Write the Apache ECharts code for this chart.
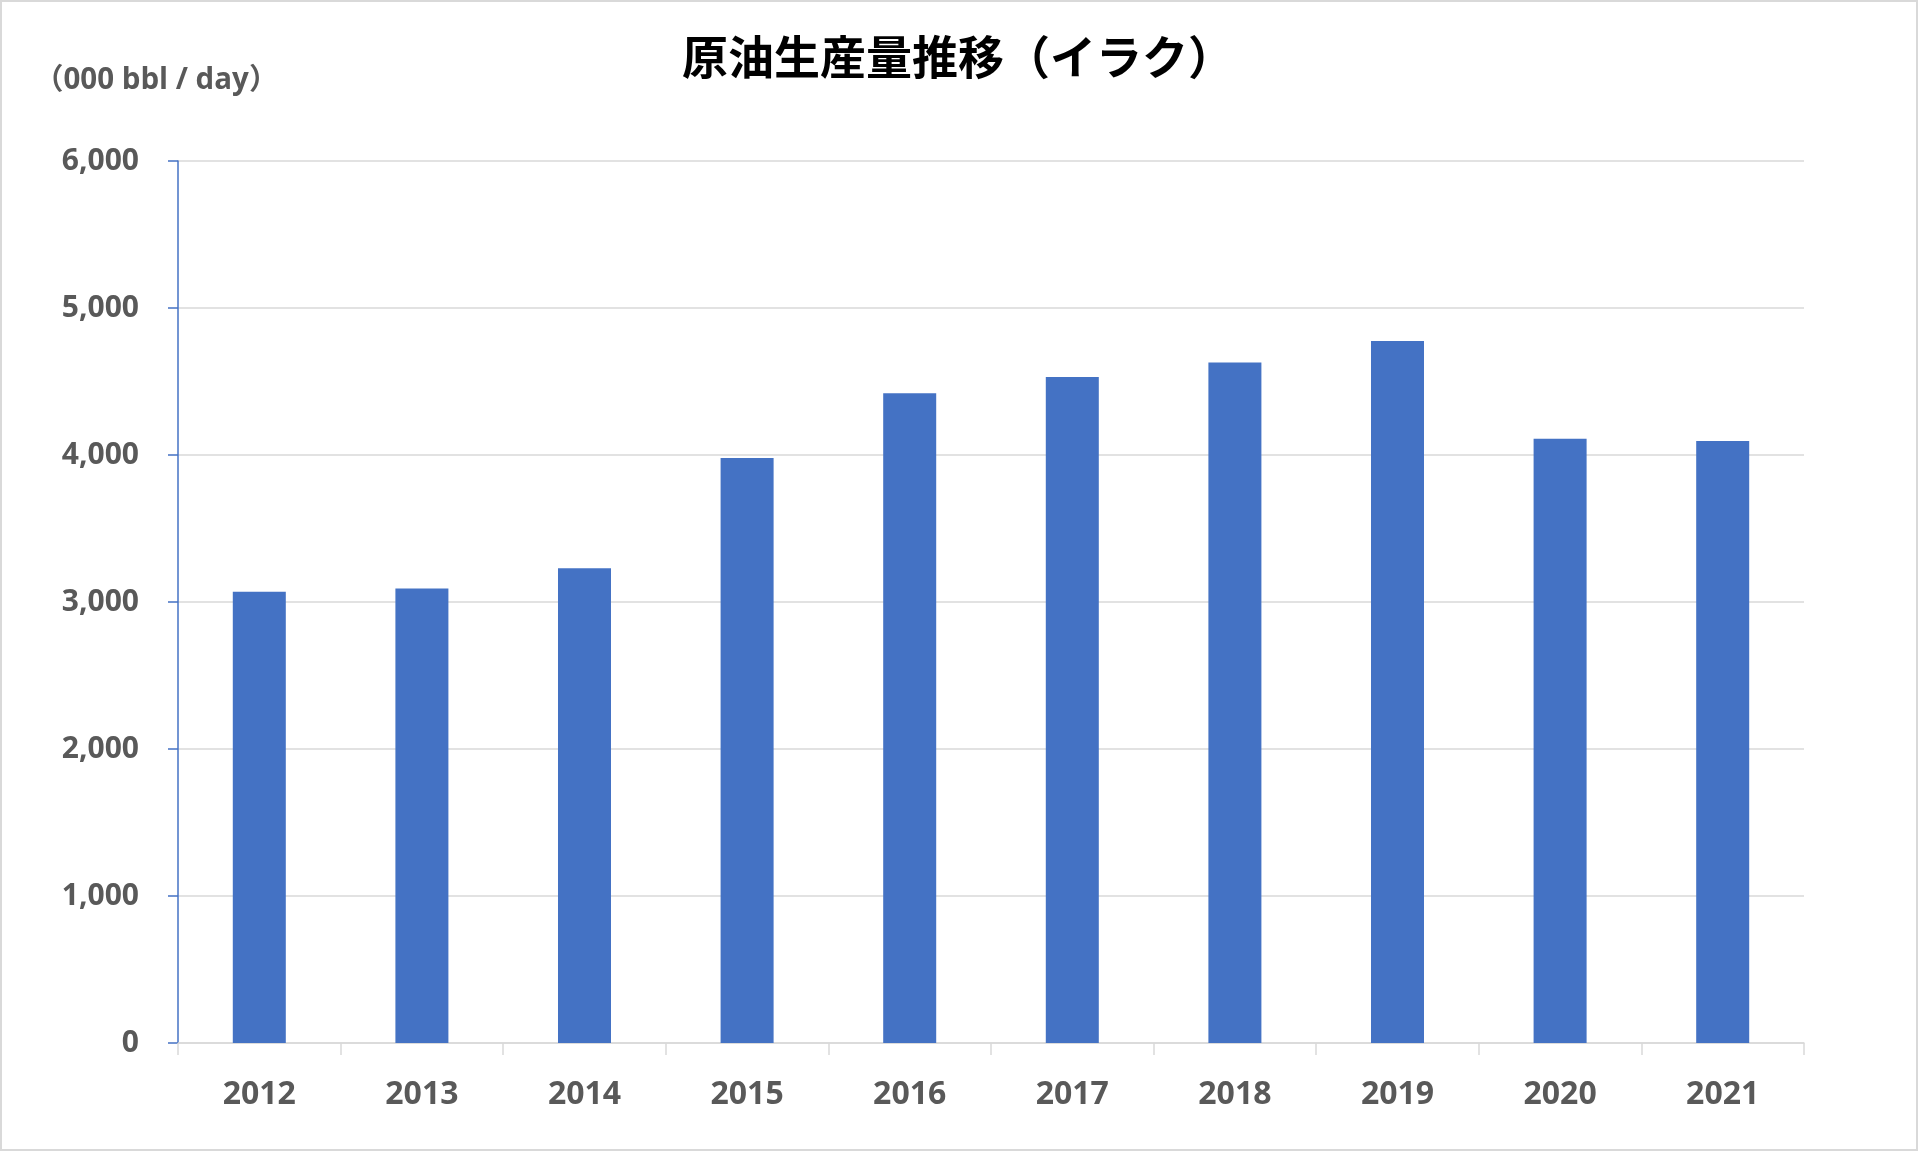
<!DOCTYPE html>
<html>
<head>
<meta charset="utf-8">
<script src="https://cdn.jsdelivr.net/npm/echarts@6/dist/echarts.min.js"></script>
<style>
html,body{margin:0;padding:0;background:#fff;}
#chart{width:1920px;height:1152px;}
</style>
</head>
<body>
<div id="chart"></div>
<script>
const titleText = '原油生産量推移（イラク）';
const unitText = '（000 bbl / day）';
const years = ['2012','2013','2014','2015','2016','2017','2018','2019','2020','2021'];
const production = [3070, 3092, 3230, 3980, 4420, 4530, 4630, 4775, 4110, 4095];
const yMin = 0, yMax = 6000, yStep = 1000;

const chart = echarts.init(document.getElementById('chart'), null, {renderer:'canvas'});
const latin = "'Open Sans', 'Noto Sans CJK JP', sans-serif";
chart.setOption({
  backgroundColor: '#ffffff',
  animation: false,
  title: {
    text: titleText,
    left: 677,
    top: 29,
    textStyle: {fontSize: 46, fontWeight: 'bold', color: '#000000', fontFamily: "'Noto Sans CJK JP', sans-serif"}
  },
  graphic: [
    {type:'rect', shape:{x:1, y:1, width:1916, height:1149}, style:{fill:'none', stroke:'#d9d9d9', lineWidth:2}, silent:true},
    {type:'text', left: 34, top: 66, style:{text: unitText, fontSize: 29.5, fontWeight:'bold', fill:'#595959', fontFamily: latin}}
  ],
  grid: {left: 178, right: 116, top: 161, bottom: 109, containLabel: false},
  xAxis: {
    type: 'category',
    data: years,
    axisLine: {show: true, lineStyle: {color: '#d9d9d9', width: 1.5}},
    axisTick: {show: true, alignWithLabel: false, length: 12, lineStyle: {color: '#d9d9d9', width: 1.5}},
    axisLabel: {fontSize: 32, fontWeight: 'bold', color: '#595959', margin: 36, fontFamily: latin},
    splitLine: {show: false}
  },
  yAxis: {
    type: 'value',
    min: yMin, max: yMax, interval: yStep,
    axisLine: {show: true, lineStyle: {color: '#4472C4', width: 1.5}},
    axisTick: {show: true, length: 10, lineStyle: {color: '#4472C4', width: 1.5}},
    axisLabel: {fontSize: 30, fontWeight: 'bold', color: '#595959', margin: 39, fontFamily: latin,
      formatter: v => v.toLocaleString('en-US')},
    splitLine: {show: true, lineStyle: {color: '#d9d9d9', width: 1.5}}
  },
  series: [{
    type: 'bar',
    data: production,
    barWidth: '32.6%',
    itemStyle: {color: '#4472C4'}
  }]
});
</script>
</body>
</html>
